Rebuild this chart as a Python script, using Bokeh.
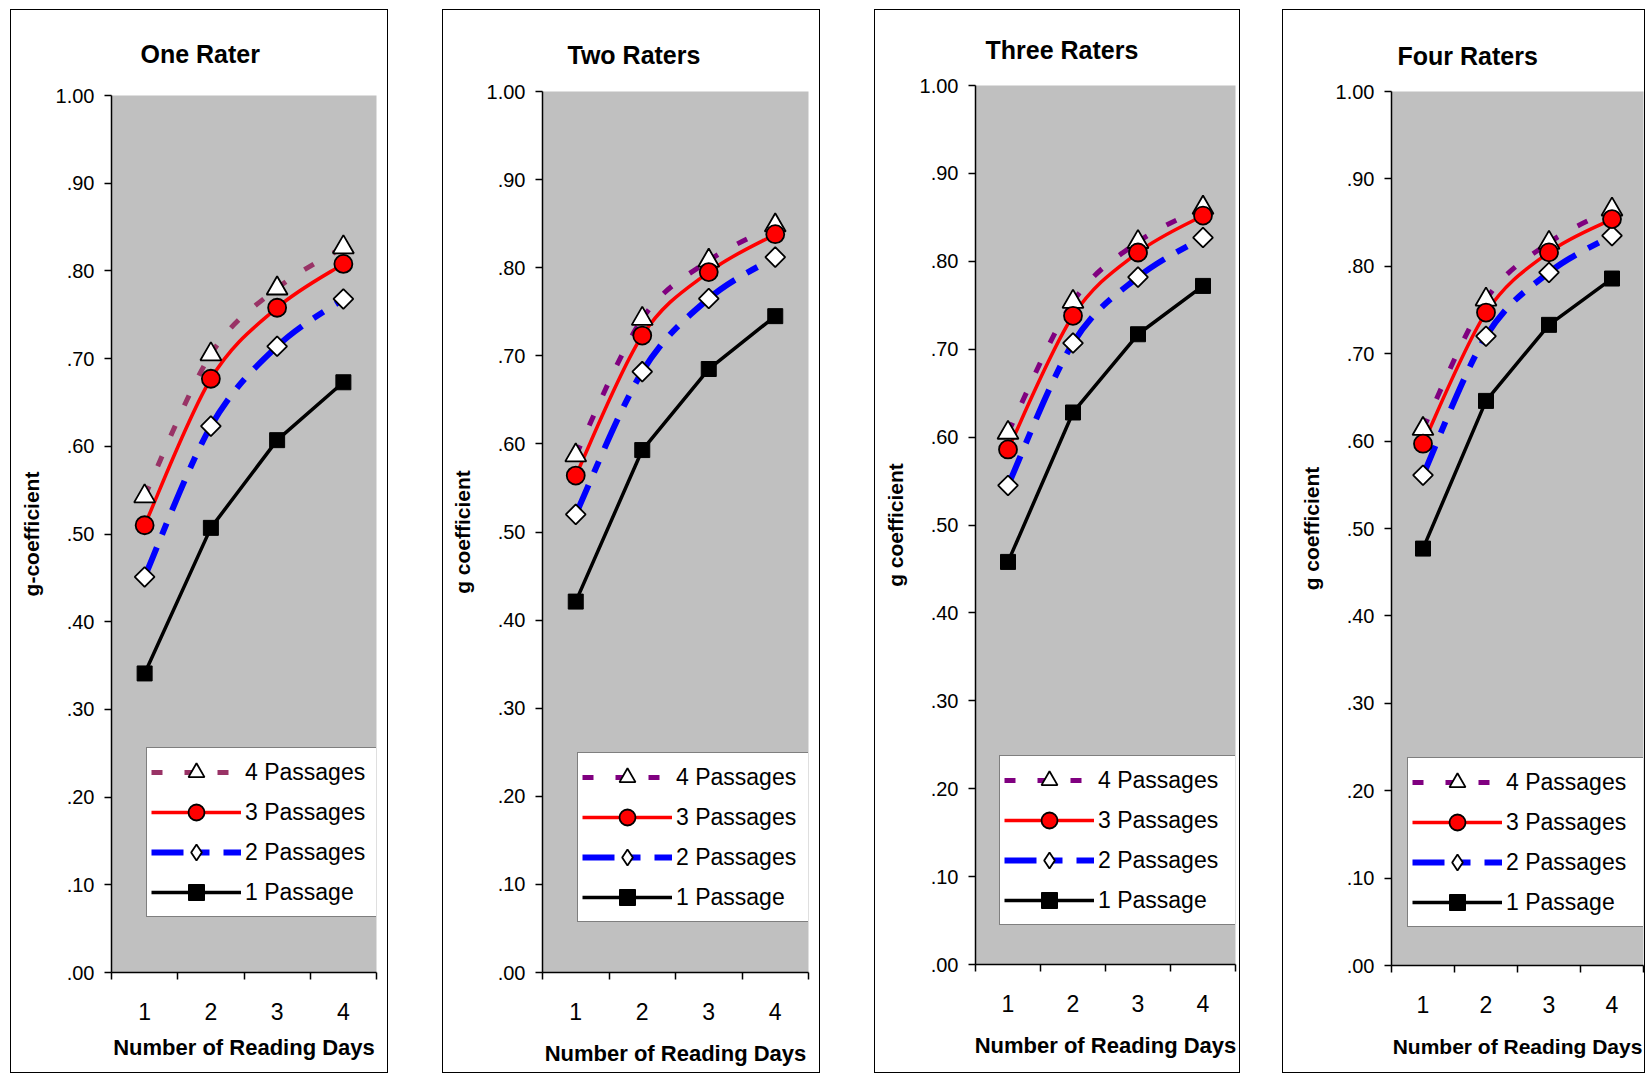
import numpy as np
from bokeh.plotting import figure
from bokeh.models import (FixedTicker, Range1d, Legend, LegendItem,
                          CustomJSTickFormatter, ColumnDataSource)
from bokeh.embed import file_html
from bokeh.resources import INLINE

# ------------------------------------------------------------------ data
days = [1, 2, 3, 4]
y_ticks = [0.0, 0.1, 0.2, 0.3, 0.4, 0.5, 0.6, 0.7, 0.8, 0.9, 1.0]
panel_titles = ["One Rater", "Two Raters", "Three Raters", "Four Raters"]
y_titles = ["g-coefficient", "g coefficient", "g coefficient", "g coefficient"]
x_title = "Number of Reading Days"
series_labels = ["4 Passages", "3 Passages", "2 Passages", "1 Passage"]

one_rater_4p = [0.543, 0.705, 0.780, 0.827]
one_rater_3p = [0.510, 0.677, 0.758, 0.808]
one_rater_2p = [0.451, 0.623, 0.714, 0.768]
one_rater_1p = [0.341, 0.507, 0.607, 0.673]

two_raters_4p = [0.587, 0.742, 0.808, 0.848]
two_raters_3p = [0.564, 0.723, 0.795, 0.838]
two_raters_2p = [0.520, 0.682, 0.765, 0.812]
two_raters_1p = [0.421, 0.593, 0.685, 0.745]

three_raters_4p = [0.605, 0.754, 0.822, 0.861]
three_raters_3p = [0.586, 0.738, 0.810, 0.852]
three_raters_2p = [0.545, 0.707, 0.782, 0.827]
three_raters_1p = [0.458, 0.628, 0.717, 0.772]

four_raters_4p = [0.614, 0.762, 0.827, 0.865]
four_raters_3p = [0.597, 0.747, 0.816, 0.854]
four_raters_2p = [0.561, 0.720, 0.793, 0.835]
four_raters_1p = [0.477, 0.646, 0.733, 0.786]

panel_series = [
    [one_rater_4p, one_rater_3p, one_rater_2p, one_rater_1p],
    [two_raters_4p, two_raters_3p, two_raters_2p, two_raters_1p],
    [three_raters_4p, three_raters_3p, three_raters_2p, three_raters_1p],
    [four_raters_4p, four_raters_3p, four_raters_2p, four_raters_1p],
]

# ------------------------------------------------------------------ styles
FONT = "Liberation Sans"
GREY = "#C0C0C0"
purple_colors = ["#993366", "#800080", "#800080", "#800080"]

# per panel layout in page pixels
geom = [
    dict(left=11, w=376, bl=100, br=11, bt=85, bb=100, toff=29, tso=53,
         xso=12, xfs="22px", leg=(35, 55), lw=127),
    dict(left=443, w=376, bl=99, br=11, bt=81, bb=100, toff=25, tso=44,
         xso=18, xfs="22px", leg=(35, 50), lw=128),
    dict(left=875, w=364, bl=100, br=4, bt=75, bb=108, toff=10, tso=41,
         xso=18, xfs="22px", leg=(24, 39), lw=133),
    dict(left=1283, w=361, bl=108, br=1, bt=81, bb=107, toff=6, tso=42,
         xso=19, xfs="21px", leg=(16, 38), lw=133),
]
TOP = 10
H = 1062


def bezier_source(xs, ys):
    x = np.asarray(xs, float)
    y = np.asarray(ys, float)
    n = len(x)
    xp = np.concatenate([[x[0]], x, [x[-1]]])
    yp = np.concatenate([[y[0]], y, [y[-1]]])
    k = 1.0 / 6.0
    return ColumnDataSource(dict(
        x0=x[:-1], y0=y[:-1], x1=x[1:], y1=y[1:],
        cx0=x[:-1] + (x[1:] - xp[0:n - 1]) * k,
        cy0=y[:-1] + (y[1:] - yp[0:n - 1]) * k,
        cx1=x[1:] - (xp[3:n + 2] - x[:-1]) * k,
        cy1=y[1:] - (yp[3:n + 2] - y[:-1]) * k,
    ))


def make_panel(i):
    g = geom[i]
    p = figure(width=g["w"], height=H, x_range=Range1d(0.5, 4.5),
               y_range=Range1d(0, 1), output_backend="svg",
               toolbar_location=None,
               min_border_left=g["bl"], min_border_right=g["br"],
               min_border_top=g["bt"], min_border_bottom=g["bb"])
    p.margin = (0, 0, 0, 0)
    p.styles = {"position": "absolute", "left": f"{g['left']}px",
                "top": f"{TOP}px", "outline": "1.5px solid black",
                "outline-offset": "0px"}
    p.background_fill_color = GREY
    p.border_fill_color = "white"
    p.outline_line_color = None
    p.grid.visible = False

    # title
    p.title.text = panel_titles[i]
    p.title.align = "left"
    p.title.offset = g["toff"]
    p.title.vertical_align = "middle"
    p.title.standoff = g["tso"]
    p.title.text_font = FONT
    p.title.text_font_size = "25px"
    p.title.text_font_style = "bold"
    p.title.text_color = "black"

    # x axis
    xa = p.xaxis[0]
    boundaries = [d - 0.5 for d in days] + [days[-1] + 0.5]
    xa.ticker = FixedTicker(ticks=days, minor_ticks=boundaries)
    xa.major_tick_line_color = None
    xa.major_tick_out = 0
    xa.major_tick_in = 0
    xa.minor_tick_line_color = "black"
    xa.minor_tick_line_width = 1.5
    xa.minor_tick_out = 7
    xa.minor_tick_in = 0
    xa.axis_line_color = "black"
    xa.axis_line_width = 1.5
    xa.major_label_text_font = FONT
    xa.major_label_text_font_size = "23px"
    xa.major_label_text_color = "black"
    xa.major_label_standoff = 23
    xa.axis_label = x_title
    xa.axis_label_text_font = FONT
    xa.axis_label_text_font_size = g["xfs"]
    xa.axis_label_text_font_style = "bold"
    xa.axis_label_text_color = "black"
    xa.axis_label_standoff = g["xso"]

    # y axis
    ya = p.yaxis[0]
    ya.ticker = FixedTicker(ticks=y_ticks, minor_ticks=[])
    ya.formatter = CustomJSTickFormatter(code="return tick.toFixed(2).replace(/^0/, '');")
    ya.major_tick_line_color = "black"
    ya.major_tick_line_width = 1.5
    ya.major_tick_out = 7
    ya.major_tick_in = 0
    ya.minor_tick_line_color = None
    ya.axis_line_color = "black"
    ya.axis_line_width = 1.5
    ya.major_label_text_font = FONT
    ya.major_label_text_font_size = "20px"
    ya.major_label_text_color = "black"
    ya.major_label_standoff = 10
    ya.axis_label = y_titles[i]
    ya.axis_label_text_font = FONT
    ya.axis_label_text_font_size = "21px"
    ya.axis_label_text_font_style = "bold"
    ya.axis_label_text_color = "black"
    ya.axis_label_standoff = 10

    s4, s3, s2, s1 = panel_series[i]
    pc = purple_colors[i]

    # lines
    l4 = p.bezier(x0="x0", y0="y0", x1="x1", y1="y1", cx0="cx0", cy0="cy0",
                  cx1="cx1", cy1="cy1", source=bezier_source(days, s4),
                  line_color=pc, line_width=5, line_dash="11 22")
    l2 = p.bezier(x0="x0", y0="y0", x1="x1", y1="y1", cx0="cx0", cy0="cy0",
                  cx1="cx1", cy1="cy1", source=bezier_source(days, s2),
                  line_color="#0000FF", line_width=6, line_dash="32 14 12 14")
    l3 = p.bezier(x0="x0", y0="y0", x1="x1", y1="y1", cx0="cx0", cy0="cy0",
                  cx1="cx1", cy1="cy1", source=bezier_source(days, s3),
                  line_color="#FF0000", line_width=3.5)
    l1 = p.line(days, s1, line_color="black", line_width=3.5)

    # markers
    m4 = p.scatter(days, s4, marker="triangle", size=21, fill_color="white",
                   line_color="black", line_width=1.8)
    m2 = p.scatter(days, s2, marker="square", angle=np.pi / 4, size=14,
                   fill_color="white", line_color="black", line_width=1.8)
    m2_leg = p.scatter(days, s2, marker="diamond", size=0, fill_color="white",
                       line_color="black", line_width=1.8)
    m3 = p.scatter(days, s3, marker="circle", size=18, fill_color="#FF0000",
                   line_color="black", line_width=1.8)
    m1 = p.scatter(days, s1, marker="square", size=15, fill_color="black",
                   line_color="black", line_width=1)

    items = [
        LegendItem(label=series_labels[0], renderers=[l4, m4]),
        LegendItem(label=series_labels[1], renderers=[l3, m3]),
        LegendItem(label=series_labels[2], renderers=[l2, m2_leg]),
        LegendItem(label=series_labels[3], renderers=[l1, m1]),
    ]
    leg = Legend(items=items, location=g["leg"], orientation="vertical",
                 glyph_width=90, glyph_height=40, label_height=40,
                 label_width=g["lw"], label_standoff=4, spacing=0, padding=4,
                 margin=0, border_line_color="black", border_line_width=1.5,
                 background_fill_color="white", background_fill_alpha=1,
                 label_text_font=FONT, label_text_font_size="23px",
                 label_text_color="black")
    p.add_layout(leg)
    return p


panels = [make_panel(i) for i in range(4)]

open("out.html", "w").write(file_html(panels, INLINE))
